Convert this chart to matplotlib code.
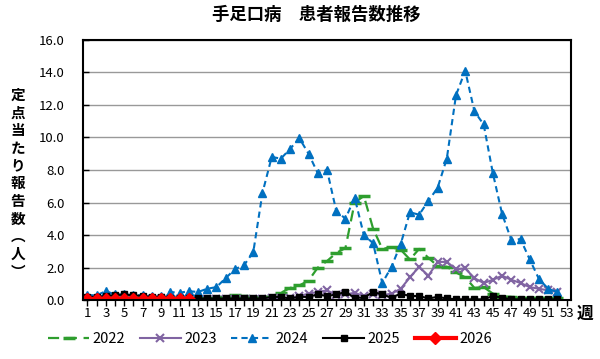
'''
Hand, foot and mouth disease: weekly reports per sentinel, 2022-2026.
'''

from matplotlib import pyplot as plt
import numpy as np

plt.rcParams['font.family'] = ['Noto Sans CJK JP', 'DejaVu Sans']

# weekly values per sentinel
y2022 = [0.1, 0.1, 0.1, 0.1, 0.1, 0.1, 0.1, 0.1, 0.1, 0.1,
         0.1, 0.1, 0.1, 0.1, 0.15, 0.2, 0.3, 0.25, 0.2, 0.2,
         0.2, 0.45, 0.75, 0.9, 1.2, 2.0, 2.4, 2.9, 3.2, 6.0,
         6.4, 4.4, 3.15, 3.25, 3.1, 2.5, 3.15, 2.6, 2.1, 2.05,
         1.7, 1.4, 0.75, 0.8, 0.4, 0.2, 0.2, 0.15, 0.1, 0.1,
         0.1, 0.1]
y2023 = [0.05, 0.05, 0.05, 0.05, 0.05, 0.05, 0.05, 0.05, 0.05, 0.05,
         0.05, 0.05, 0.05, 0.05, 0.05, 0.05, 0.05, 0.05, 0.05, 0.05,
         0.1, 0.1, 0.15, 0.25, 0.4, 0.5, 0.6, 0.3, 0.35, 0.45,
         0.25, 0.4, 0.3, 0.4, 0.7, 1.4, 2.05, 1.5, 2.35, 2.35,
         1.9, 1.95, 1.35, 1.05, 1.25, 1.5, 1.25, 1.05, 0.8, 0.7,
         0.6, 0.5]
y2024 = [0.3, 0.3, 0.55, 0.35, 0.35, 0.3, 0.3, 0.25, 0.25, 0.5,
         0.45, 0.55, 0.5, 0.7, 0.8, 1.35, 1.9, 2.15, 2.95, 6.6,
         8.8, 8.7, 9.3, 9.95, 9.0, 7.8, 8.0, 5.5, 5.0, 6.3,
         4.0, 3.5, 1.05, 2.05, 3.45, 5.4, 5.25, 6.1, 6.9, 8.7,
         12.6, 14.1, 11.6, 10.8, 7.8, 5.3, 3.7, 3.75, 2.5, 1.3,
         0.7, 0.5]
y2025 = [0.2, 0.2, 0.25, 0.3, 0.35, 0.3, 0.25, 0.2, 0.2, 0.15,
         0.15, 0.1, 0.1, 0.1, 0.1, 0.1, 0.1, 0.1, 0.1, 0.1,
         0.2, 0.2, 0.1, 0.2, 0.2, 0.35, 0.25, 0.35, 0.5, 0.15,
         0.15, 0.5, 0.35, 0.15, 0.4, 0.25, 0.25, 0.1, 0.2, 0.1,
         0.05, 0.05, 0.05, 0.05, 0.25, 0.15, 0.05, 0.05, 0.05, 0.05,
         0.05, 0.05]
y2026 = [0.05, 0.05, 0.05, 0.05, 0.05, 0.05, 0.05, 0.05, 0.05, 0.05,
         0.05, 0.05]
week_labels = [str(w) for w in range(1, 54, 2)]


def main():
    fig = plt.figure(figsize=(6, 3.59), dpi=100)
    ax = fig.add_axes([0.138, 0.164, 0.814, 0.725])

    ax.plot(np.arange(1, len(y2022) + 1), y2022, color='#2e9e2e',
            lw=1.6, dashes=(5, 3), marker='_', ms=8, mew=2.5, label='2022')
    ax.plot(np.arange(1, len(y2023) + 1), y2023, color='#8064a2',
            lw=1.5, marker='x', ms=6, mew=1.5, label='2023')
    ax.plot(np.arange(1, len(y2024) + 1), y2024, color='#0070c0',
            lw=1.5, dashes=(3, 2), marker='^', ms=6, label='2024')
    ax.plot(np.arange(1, len(y2025) + 1), y2025, color='black',
            lw=1.5, marker='s', ms=4, label='2025')
    ax.plot(np.arange(1, len(y2026) + 1), y2026, color='#ff0000',
            lw=3, marker='D', ms=6, label='2026')

    ax.set_xlim(0.5, 53.5)
    ax.set_ylim(0, 16)
    ax.set_yticks(np.arange(0, 16.1, 2))
    ax.set_yticklabels(['%.1f' % v for v in np.arange(0, 16.1, 2)],
                       fontsize=9.5)
    ax.set_xticks(range(1, 54, 2))
    ax.set_xticklabels(week_labels, fontsize=9.5)
    ax.set_xticks(range(1, 54), minor=True)
    ax.tick_params(axis='x', which='both', direction='out', length=4,
                   width=1, pad=1)
    ax.tick_params(axis='y', direction='in', length=4, width=1, pad=13)
    ax.grid(axis='y', color='#999999', lw=1)
    ax.set_axisbelow(True)
    for s in ax.spines.values():
        s.set_linewidth(1.5)

    fig.text(0.527, 0.958, '手足口病　患者報告数推移', ha='center',
             va='center', fontsize=12.5, fontweight='bold')
    fig.text(0.975, 0.125, '週', ha='center', va='center', fontsize=12,
             fontweight='bold')
    fig.text(0.03, 0.49, '\n'.join('定点当たり報告数︵人︶'), ha='center',
             va='center', fontsize=10.5, fontweight='bold', linespacing=1.13)

    fig.legend(loc='center', bbox_to_anchor=(0.45, 0.055), ncol=5,
               frameon=False, fontsize=10.5, handlelength=2.8,
               columnspacing=1.0, handletextpad=0.25)

    fig.savefig('out.png')


if __name__ == "__main__":
    main()
